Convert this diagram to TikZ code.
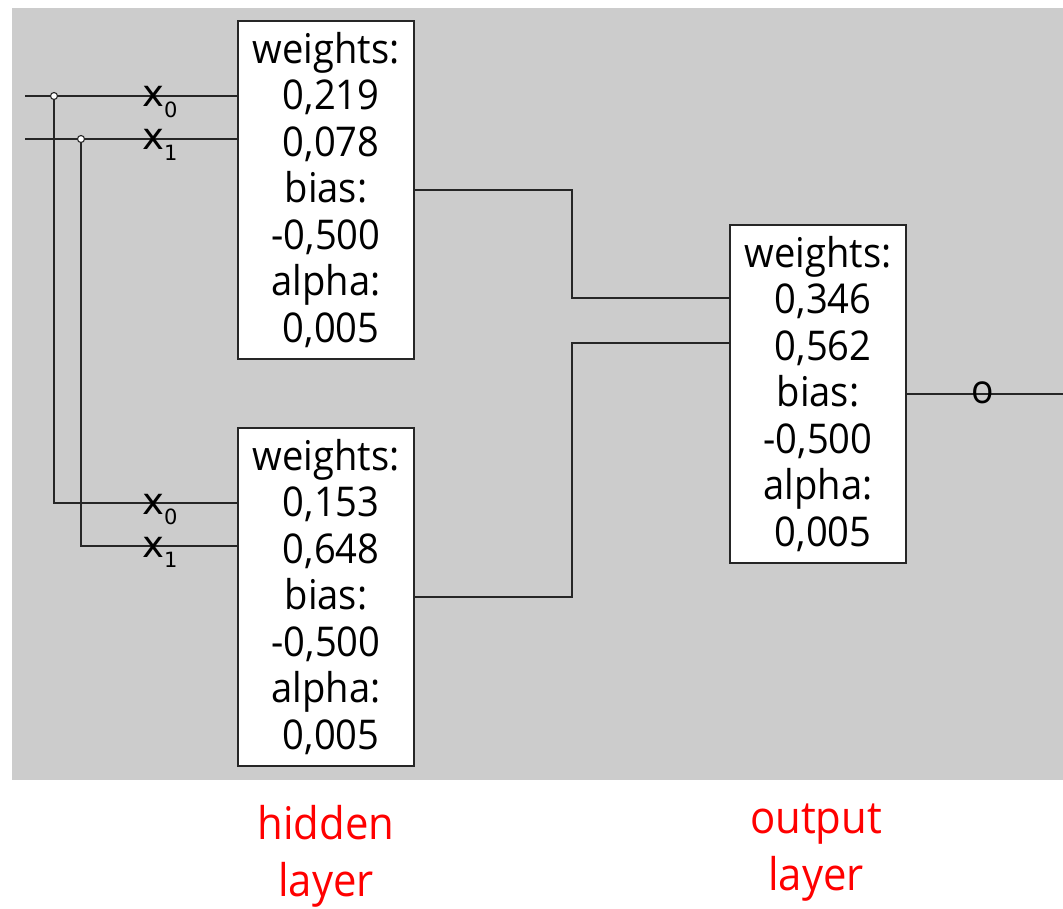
\documentclass[tikz,border=0pt]{standalone}
\usepackage{fontspec}
\setmainfont{Open Sans}[FakeStretch=0.93]
\newfontfamily\dvs{DejaVu Sans}
\definecolor{panel}{HTML}{CCCCCC}
\newcommand{\num}[1]{\hspace*{0.25em}#1}
\tikzset{
  wire/.style={draw=black!85, line width=1.4pt},
  neuron/.style={draw=black!85, line width=1.4pt, fill=white, minimum width=176pt,
    minimum height=338pt, inner sep=0pt, align=center,
    font=\fontsize{41}{46.5}\selectfont},
  joint/.style={circle, draw=black!85, line width=1.1pt, fill=white, inner sep=0pt, minimum size=7pt},
  inlabel/.style={anchor=base west, inner sep=0pt, font=\dvs\fontsize{37}{37}\selectfont},
  layerlabel/.style={text=red, align=center, font=\fontsize{45}{57}\selectfont}
}
\begin{document}
\begin{tikzpicture}[x=1pt,y=-1pt]
\useasboundingbox (0,0) rectangle (1063,909);
\fill[panel] (12,8) rectangle (1063,780);

% neurons
\node[neuron] (h1) at (326,190) {weights:\\\num{0,219}\\\num{0,078}\\bias:\\-0,500\\alpha:\\\num{0,005}};
\node[neuron] (h2) at (326,597) {weights:\\\num{0,153}\\\num{0,648}\\bias:\\-0,500\\alpha:\\\num{0,005}};
\node[neuron] (out) at (818,394) {weights:\\\num{0,346}\\\num{0,562}\\bias:\\-0,500\\alpha:\\\num{0,005}};

% inputs
\coordinate (in0) at (25,96);
\coordinate (in1) at (25,139);
\coordinate (j0) at (54,96);
\coordinate (j1) at (81,139);
\coordinate (o2) at (1063,394);

\draw[wire] (in0) -- (h1.west |- in0);
\draw[wire] (in1) -- (h1.west |- in1);
\draw[wire] (j0) |- (h2.west |- 0,503);
\draw[wire] (j1) |- (h2.west |- 0,546);
\node[joint] (c0) at (j0) {};
\node[joint] (c1) at (j1) {};

% input labels
\node[inlabel] (lx0) at (142,107) {x\raisebox{-0.28em}{\fontsize{21}{21}\selectfont 0}};
\node[inlabel] (lx1) at (142,150) {x\raisebox{-0.28em}{\fontsize{21}{21}\selectfont 1}};
\node[inlabel] (lx2) at (142,514) {x\raisebox{-0.28em}{\fontsize{21}{21}\selectfont 0}};
\node[inlabel] (lx3) at (142,557) {x\raisebox{-0.28em}{\fontsize{21}{21}\selectfont 1}};

% hidden to output
\draw[wire] (h1.east |- 0,190) -- (572,190) |- (out.west |- 0,298);
\draw[wire] (h2.east |- 0,597) -- (572,597) |- (out.west |- 0,343);

% output line
\draw[wire] (out.east |- o2) -- (o2);
\node[font=\fontsize{40}{40}\selectfont, inner sep=0pt] (olab) at (983,393) {o};

% layer captions
\node[layerlabel] (lh) at (326,856) {hidden\\layer};
\node[layerlabel] (lo) at (816,853) {output\\layer};
\end{tikzpicture}
\end{document}
